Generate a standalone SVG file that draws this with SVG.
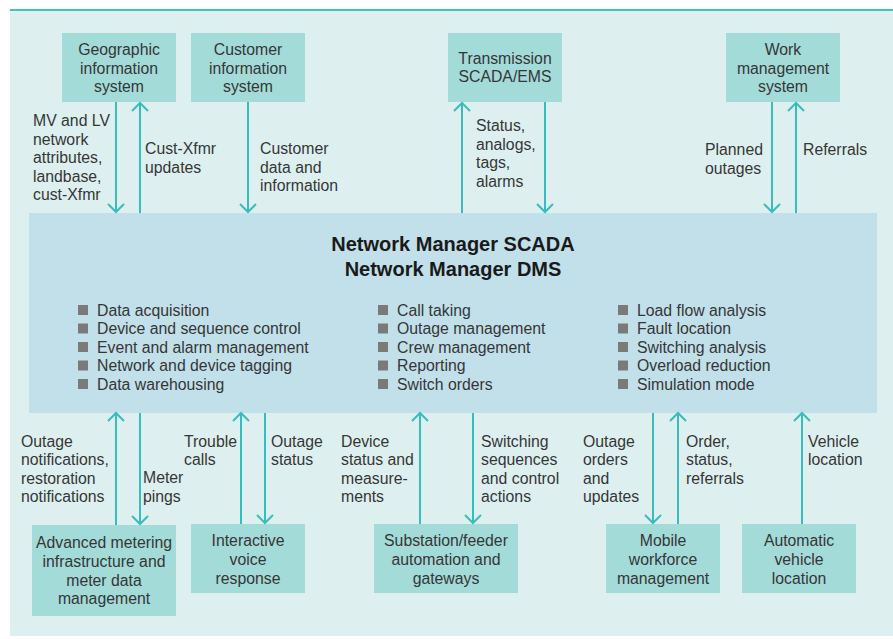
<svg xmlns="http://www.w3.org/2000/svg" width="893" height="639" viewBox="0 0 893 639">
  <style>
    text { font-family: "Liberation Sans", Arial, Helvetica, sans-serif; font-size: 15.8px; fill: #363636; }
    .node rect { fill: #a3dbd9; }
    .node text { text-anchor: middle; }
    .title { font-size: 20px; font-weight: bold; fill: #1a1a1a; text-anchor: middle; }
    .bullet { fill: #7a7a7a; }
    .conn line { stroke: #3bbcbc; stroke-width: 2; }
  </style>
  <defs>
    <marker id="head" viewBox="-10 -10 20 20" markerWidth="20" markerHeight="20" markerUnits="userSpaceOnUse" refX="0" refY="0" orient="auto">
      <path d="M -8 -8 L 0 0 L -8 8" fill="none" stroke="#3bbcbc" stroke-width="2"/>
    </marker>
  </defs>

  <!-- background panel -->
  <rect x="10" y="10" width="883" height="626" fill="#ddf0ef"/>
  <line x1="10" y1="10" x2="893" y2="10" stroke="#4bbfbf" stroke-width="2"/>

  <!-- central system -->
  <g id="network-manager">
    <rect x="29" y="213" width="848" height="200" fill="#c1e0ea"/>
    <text class="title" x="453" y="251">Network Manager SCADA</text>
    <text class="title" x="453" y="276">Network Manager DMS</text>
    <g>
      <rect class="bullet" x="78" y="305" width="10" height="10"/>
      <rect class="bullet" x="78" y="323.5" width="10" height="10"/>
      <rect class="bullet" x="78" y="342" width="10" height="10"/>
      <rect class="bullet" x="78" y="360.5" width="10" height="10"/>
      <rect class="bullet" x="78" y="379" width="10" height="10"/>
      <text x="97" y="315.5">Data acquisition</text>
      <text x="97" y="334">Device and sequence control</text>
      <text x="97" y="352.5">Event and alarm management</text>
      <text x="97" y="371">Network and device tagging</text>
      <text x="97" y="389.5">Data warehousing</text>
    </g>
    <g>
      <rect class="bullet" x="378" y="305" width="10" height="10"/>
      <rect class="bullet" x="378" y="323.5" width="10" height="10"/>
      <rect class="bullet" x="378" y="342" width="10" height="10"/>
      <rect class="bullet" x="378" y="360.5" width="10" height="10"/>
      <rect class="bullet" x="378" y="379" width="10" height="10"/>
      <text x="397" y="315.5">Call taking</text>
      <text x="397" y="334">Outage management</text>
      <text x="397" y="352.5">Crew management</text>
      <text x="397" y="371">Reporting</text>
      <text x="397" y="389.5">Switch orders</text>
    </g>
    <g>
      <rect class="bullet" x="618" y="305" width="10" height="10"/>
      <rect class="bullet" x="618" y="323.5" width="10" height="10"/>
      <rect class="bullet" x="618" y="342" width="10" height="10"/>
      <rect class="bullet" x="618" y="360.5" width="10" height="10"/>
      <rect class="bullet" x="618" y="379" width="10" height="10"/>
      <text x="637" y="315.5">Load flow analysis</text>
      <text x="637" y="334">Fault location</text>
      <text x="637" y="352.5">Switching analysis</text>
      <text x="637" y="371">Overload reduction</text>
      <text x="637" y="389.5">Simulation mode</text>
    </g>
  </g>

  <!-- upper systems -->
  <g id="gis" class="node">
    <rect x="62" y="33" width="114" height="69"/>
    <text x="119" y="55">Geographic</text>
    <text x="119" y="74">information</text>
    <text x="119" y="92">system</text>
  </g>
  <g id="cis" class="node">
    <rect x="191" y="33" width="114" height="69"/>
    <text x="248" y="55">Customer</text>
    <text x="248" y="74">information</text>
    <text x="248" y="92">system</text>
  </g>
  <g id="transmission" class="node">
    <rect x="448" y="33" width="114" height="69"/>
    <text x="505" y="64">Transmission</text>
    <text x="505" y="82">SCADA/EMS</text>
  </g>
  <g id="wms" class="node">
    <rect x="726" y="33" width="114" height="69"/>
    <text x="783" y="55">Work</text>
    <text x="783" y="74">management</text>
    <text x="783" y="92">system</text>
  </g>

  <!-- lower systems -->
  <g id="ami" class="node">
    <rect x="32" y="525" width="144" height="91"/>
    <text x="104" y="548">Advanced metering</text>
    <text x="104" y="567">infrastructure and</text>
    <text x="104" y="586">meter data</text>
    <text x="104" y="604">management</text>
  </g>
  <g id="ivr" class="node">
    <rect x="191" y="524" width="114" height="69"/>
    <text x="248" y="546">Interactive</text>
    <text x="248" y="565">voice</text>
    <text x="248" y="584">response</text>
  </g>
  <g id="substation" class="node">
    <rect x="374" y="524" width="144" height="69"/>
    <text x="446" y="546">Substation/feeder</text>
    <text x="446" y="565">automation and</text>
    <text x="446" y="584">gateways</text>
  </g>
  <g id="mwm" class="node">
    <rect x="606" y="524" width="114" height="69"/>
    <text x="663" y="546">Mobile</text>
    <text x="663" y="565">workforce</text>
    <text x="663" y="584">management</text>
  </g>
  <g id="avl" class="node">
    <rect x="742" y="524" width="114" height="69"/>
    <text x="799" y="546">Automatic</text>
    <text x="799" y="565">vehicle</text>
    <text x="799" y="584">location</text>
  </g>

  <!-- data flows -->
  <g id="connectors" class="conn">
    <line x1="116" y1="102" x2="116" y2="212" marker-end="url(#head)"/>
    <line x1="140" y1="213" x2="140" y2="103" marker-end="url(#head)"/>
    <line x1="248" y1="102" x2="248" y2="212" marker-end="url(#head)"/>
    <line x1="462" y1="213" x2="462" y2="103" marker-end="url(#head)"/>
    <line x1="545" y1="102" x2="545" y2="212" marker-end="url(#head)"/>
    <line x1="772" y1="102" x2="772" y2="212" marker-end="url(#head)"/>
    <line x1="796" y1="213" x2="796" y2="103" marker-end="url(#head)"/>

    <line x1="116" y1="525" x2="116" y2="413" marker-end="url(#head)"/>
    <line x1="140" y1="413" x2="140" y2="524" marker-end="url(#head)"/>
    <line x1="241" y1="524" x2="241" y2="413" marker-end="url(#head)"/>
    <line x1="265" y1="413" x2="265" y2="523" marker-end="url(#head)"/>
    <line x1="420" y1="524" x2="420" y2="413" marker-end="url(#head)"/>
    <line x1="473" y1="413" x2="473" y2="523" marker-end="url(#head)"/>
    <line x1="653" y1="413" x2="653" y2="523" marker-end="url(#head)"/>
    <line x1="678" y1="524" x2="678" y2="413" marker-end="url(#head)"/>
    <line x1="802" y1="524" x2="802" y2="413" marker-end="url(#head)"/>
  </g>

  <!-- flow labels -->
  <g id="labels">
    <text x="33" y="126">MV and LV</text>
    <text x="33" y="145">network</text>
    <text x="33" y="163">attributes,</text>
    <text x="33" y="182">landbase,</text>
    <text x="33" y="200">cust-Xfmr</text>

    <text x="145" y="154">Cust-Xfmr</text>
    <text x="145" y="173">updates</text>

    <text x="260" y="154">Customer</text>
    <text x="260" y="173">data and</text>
    <text x="260" y="191">information</text>

    <text x="476" y="131">Status,</text>
    <text x="476" y="150">analogs,</text>
    <text x="476" y="168">tags,</text>
    <text x="476" y="187">alarms</text>

    <text x="705" y="155">Planned</text>
    <text x="705" y="174">outages</text>

    <text x="803" y="155">Referrals</text>

    <text x="21" y="447">Outage</text>
    <text x="21" y="465">notifications,</text>
    <text x="21" y="484">restoration</text>
    <text x="21" y="502">notifications</text>

    <text x="143" y="483">Meter</text>
    <text x="143" y="502">pings</text>

    <text x="184" y="447">Trouble</text>
    <text x="184" y="465">calls</text>

    <text x="271" y="447">Outage</text>
    <text x="271" y="465">status</text>

    <text x="341" y="447">Device</text>
    <text x="341" y="465">status and</text>
    <text x="341" y="484">measure-</text>
    <text x="341" y="502">ments</text>

    <text x="481" y="447">Switching</text>
    <text x="481" y="465">sequences</text>
    <text x="481" y="484">and control</text>
    <text x="481" y="502">actions</text>

    <text x="583" y="447">Outage</text>
    <text x="583" y="465">orders</text>
    <text x="583" y="484">and</text>
    <text x="583" y="502">updates</text>

    <text x="686" y="447">Order,</text>
    <text x="686" y="465">status,</text>
    <text x="686" y="484">referrals</text>

    <text x="808" y="447">Vehicle</text>
    <text x="808" y="465">location</text>
  </g>
</svg>
